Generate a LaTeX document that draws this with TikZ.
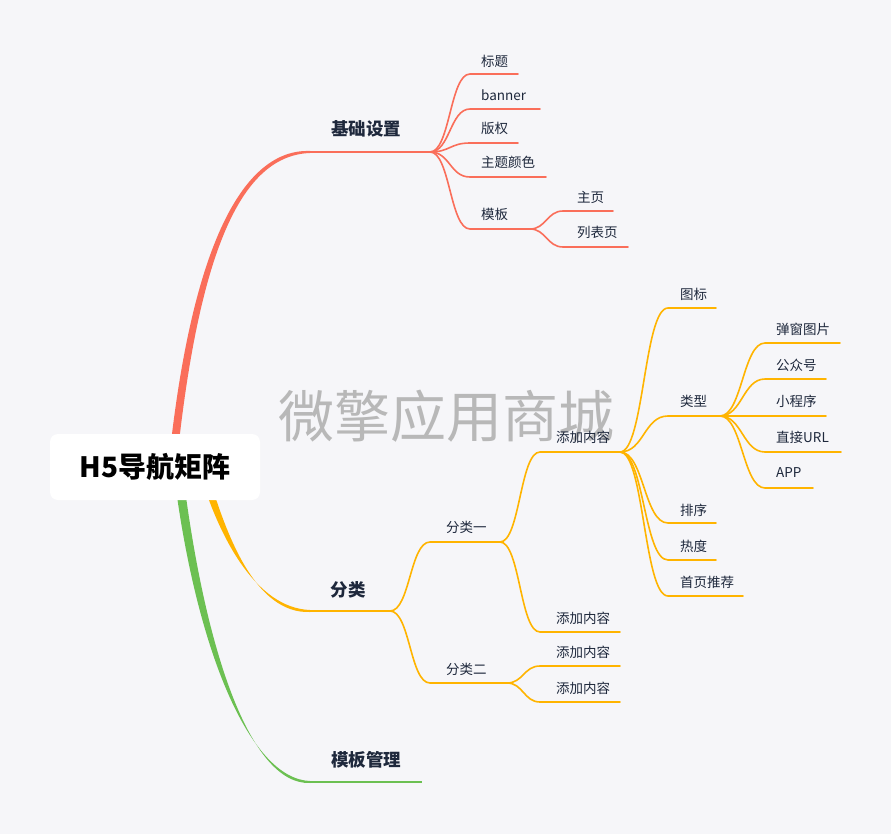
\documentclass[tikz,border=0pt]{standalone}
\usepackage{fontspec}
\setmainfont{Noto Sans CJK SC}
\definecolor{bg}{RGB}{246,246,249}
\definecolor{cR}{RGB}{250,110,90}
\definecolor{cO}{RGB}{255,180,0}
\definecolor{cG}{RGB}{108,192,82}
\definecolor{txt}{RGB}{30,40,60}
\definecolor{wm}{RGB}{184,184,184}
\begin{document}
\begin{tikzpicture}[x=1pt,y=-1pt,
  lbl/.style={anchor=west,inner sep=0pt,text=txt,font=\fontsize{13.5}{15}\selectfont},
  mainlbl/.style={anchor=center,inner sep=0pt,text=txt,font=\fontsize{17.5}{20}\selectfont\bfseries},
  br/.style={line width=1.6pt,line cap=round},
  trunk/.style={line width=2pt},
  sc/.style={out=0,in=180,out distance=#1,in distance=#1},
]
\fill[bg] (0,0) rectangle (891,834);
\useasboundingbox (0,0) rectangle (891,834);

% watermark
\node[inner sep=0pt,text=wm,font=\fontsize{56}{60}\selectfont] (wmk) at (446,416) {微擎应用商城};

% main tapered branches
\coordinate (B1) at (310,152);
\coordinate (B2) at (310,611);
\coordinate (B3) at (310,782);
\fill[cR] (168,470) .. controls (191,240) and (245,148.6) .. (310,151) -- (310,153) .. controls (245,155.4) and (199,240) .. (176,470) -- cycle;
\fill[cO] (199,470) .. controls (218,535) and (255,608) .. (310,610) -- (310,612) .. controls (255,614) and (226,535) .. (207,470) -- cycle;
\fill[cG] (173.5,470) .. controls (195.5,650) and (250,779) .. (310,781) -- (310,783) .. controls (250,785) and (204.5,650) .. (182.5,470) -- cycle;

% root
\node[fill=white,rounded corners=8pt,minimum width=210pt,minimum height=66pt,inner sep=0pt] (root) at (155,467) {};
\node[inner sep=0pt,font=\fontsize{28}{32}\selectfont\bfseries,text=black] (roottxt) at (155,467) {H5导航矩阵};

% ---------------- red branch
\coordinate (F1) at (430,152);
\draw[trunk,cR] (B1) -- (F1);
\node[mainlbl] (jc) at (366,129) {基础设置};

\coordinate (r1) at (470,74);  \coordinate (r1e) at (518,74);
\coordinate (r2) at (470,109); \coordinate (r2e) at (540,109);
\coordinate (r3) at (470,143); \coordinate (r3e) at (518,143);
\coordinate (r4) at (470,177); \coordinate (r4e) at (546,177);
\coordinate (r5) at (470,229); \coordinate (F2) at (530,229);
\draw[br,cR] (F1) to[sc=20pt] (r1) -- (r1e);
\draw[br,cR] (F1) to[sc=20pt] (r2) -- (r2e);
\draw[br,cR] (F1) to[sc=20pt] (r3) -- (r3e);
\draw[br,cR] (F1) to[sc=20pt] (r4) -- (r4e);
\draw[br,cR] (F1) to[sc=20pt] (r5) -- (F2);
\node[lbl] (t1) at (481,61) {标题};
\node[lbl] (t2) at (481,95) {banner};
\node[lbl] (t3) at (481,128) {版权};
\node[lbl] (t4) at (481,162) {主题颜色};
\node[lbl] (t5) at (481,214) {模板};

\coordinate (r6) at (563,211); \coordinate (r6e) at (613,211);
\coordinate (r7) at (563,247); \coordinate (r7e) at (628,247);
\draw[br,cR] (F2) to[sc=16pt] (r6) -- (r6e);
\draw[br,cR] (F2) to[sc=16pt] (r7) -- (r7e);
\node[lbl] (t6) at (577,197) {主页};
\node[lbl] (t7) at (577,232) {列表页};

% ---------------- orange branch
\coordinate (F3) at (390,611);
\draw[trunk,cO] (B2) -- (F3);
\node[mainlbl] (fl) at (348,590) {分类};

\coordinate (o1) at (430,542); \coordinate (F4) at (500,542);
\coordinate (o2) at (430,683); \coordinate (F5) at (507,683);
\draw[br,cO] (F3) to[sc=20pt] (o1) -- (F4);
\draw[br,cO] (F3) to[sc=20pt] (o2) -- (F5);
\node[lbl] (c1) at (446,527) {分类一};
\node[lbl] (c2) at (446,669) {分类二};

\coordinate (o3) at (540,452); \coordinate (F6) at (620,452);
\coordinate (o4) at (540,632); \coordinate (o4e) at (620,632);
\draw[br,cO] (F4) to[sc=20pt] (o3) -- (F6);
\draw[br,cO] (F4) to[sc=20pt] (o4) -- (o4e);
\node[lbl] (a1) at (556,437) {添加内容};
\node[lbl] (a2) at (556,618) {添加内容};

\coordinate (o5) at (540,666); \coordinate (o5e) at (620,666);
\coordinate (o6) at (540,702); \coordinate (o6e) at (620,702);
\draw[br,cO] (F5) to[sc=16pt] (o5) -- (o5e);
\draw[br,cO] (F5) to[sc=16pt] (o6) -- (o6e);
\node[lbl] (a3) at (556,652) {添加内容};
\node[lbl] (a4) at (556,688) {添加内容};

\coordinate (p1) at (668,308); \coordinate (p1e) at (716,308);
\coordinate (p2) at (668,416); \coordinate (F7) at (720,416);
\coordinate (p3) at (668,523); \coordinate (p3e) at (716,523);
\coordinate (p4) at (668,560); \coordinate (p4e) at (716,560);
\coordinate (p5) at (668,596); \coordinate (p5e) at (743,596);
\draw[br,cO] (F6) to[sc=24pt] (p1) -- (p1e);
\draw[br,cO] (F6) to[sc=24pt] (p2) -- (F7);
\draw[br,cO] (F6) to[sc=24pt] (p3) -- (p3e);
\draw[br,cO] (F6) to[sc=24pt] (p4) -- (p4e);
\draw[br,cO] (F6) to[sc=24pt] (p5) -- (p5e);
\node[lbl] (d1) at (680,294) {图标};
\node[lbl] (d2) at (680,401) {类型};
\node[lbl] (d3) at (680,510) {排序};
\node[lbl] (d4) at (680,546) {热度};
\node[lbl] (d5) at (680,582) {首页推荐};

\coordinate (q1) at (765,343); \coordinate (q1e) at (840,343);
\coordinate (q2) at (765,379); \coordinate (q2e) at (826,379);
\coordinate (q3) at (765,416); \coordinate (q3e) at (826,416);
\coordinate (q4) at (765,452); \coordinate (q4e) at (841,452);
\coordinate (q5) at (765,488); \coordinate (q5e) at (813,488);
\draw[br,cO] (F7) to[sc=22pt] (q1) -- (q1e);
\draw[br,cO] (F7) to[sc=22pt] (q2) -- (q2e);
\draw[br,cO] (F7) to[sc=22pt] (q3) -- (q3e);
\draw[br,cO] (F7) to[sc=22pt] (q4) -- (q4e);
\draw[br,cO] (F7) to[sc=22pt] (q5) -- (q5e);
\node[lbl] (e1) at (776,329) {弹窗图片};
\node[lbl] (e2) at (776,365) {公众号};
\node[lbl] (e3) at (776,401) {小程序};
\node[lbl] (e4) at (776,437) {直接URL};
\node[lbl] (e5) at (776,473) {APP};

% ---------------- green branch
\coordinate (G1) at (422,782);
\draw[trunk,cG] (B3) -- (G1);
\node[mainlbl] (mb) at (366,760) {模板管理};
\end{tikzpicture}
\end{document}
